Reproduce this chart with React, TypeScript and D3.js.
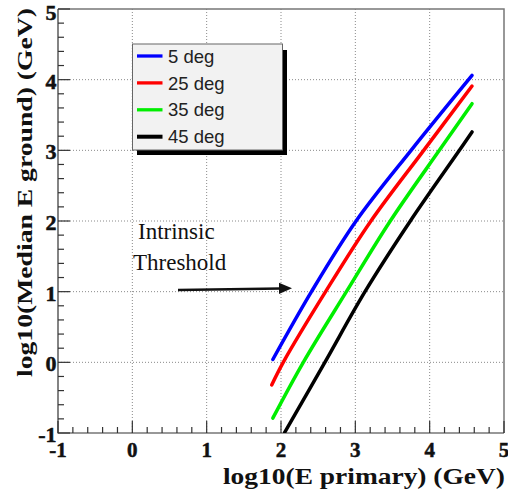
import * as d3 from "d3";

const W = 508;
const H = 493;
const PLOT = { left: 58, right: 504, top: 9, bottom: 433 };

// curve samples: log10(E primary) -> log10(median E ground)
const SERIES_NAMES = ["5 deg", "25 deg", "35 deg", "45 deg"];
const SERIES_COLORS = ["#0000ff", "#ff0000", "#00ee00", "#000000"];

const deg5X = [1.89, 2.41, 3.01, 3.75, 4.57];
const deg5Y = [0.04, 1.0, 2.0, 3.0, 4.06];

const deg25X = [1.875, 2.03, 2.6, 3.21, 3.92, 4.57];
const deg25Y = [-0.32, 0.0, 1.0, 2.0, 3.0, 3.91];

const deg35X = [1.89, 2.3, 2.88, 3.47, 4.13, 4.57];
const deg35Y = [-0.79, 0.0, 1.0, 2.0, 3.0, 3.66];

const deg45X = [2.05, 2.59, 3.13, 3.74, 4.4, 4.57];
const deg45Y = [-0.99, 0.0, 1.0, 2.0, 3.0, 3.26];

const X_TICKS = [-1, 0, 1, 2, 3, 4, 5];
const Y_TICKS = [-1, 0, 1, 2, 3, 4, 5];

const SERIF = "'Liberation Serif', 'Times New Roman', serif";
const SANS = "'Liberation Sans', Arial, sans-serif";

const App = () => {
  const x = d3.scaleLinear().domain([-1, 5]).range([PLOT.left, PLOT.right]);
  const y = d3.scaleLinear().domain([-1, 5]).range([PLOT.bottom, PLOT.top]);

  const series = [
    { xs: deg5X, ys: deg5Y },
    { xs: deg25X, ys: deg25Y },
    { xs: deg35X, ys: deg35Y },
    { xs: deg45X, ys: deg45Y },
  ];

  const line = d3
    .line<[number, number]>()
    .x((d) => x(d[0]))
    .y((d) => y(d[1]))
    .curve(d3.curveCatmullRom.alpha(0.5));

  const minorX = d3.range(-1, 5.001, 0.2);
  const minorY = d3.range(-1, 5.001, 0.2);

  return (
    <svg
      width={W}
      height={H}
      style={{ position: "absolute", left: 0, top: 0, background: "#fff" }}
    >
      <defs>
        <clipPath id="plot-clip">
          <rect
            x={PLOT.left}
            y={PLOT.top}
            width={PLOT.right - PLOT.left}
            height={PLOT.bottom - PLOT.top}
          />
        </clipPath>
      </defs>

      {/* grid */}
      <g stroke="#8a8a8a" strokeWidth={1} strokeDasharray="1,2">
        {X_TICKS.slice(1, -1).map((t) => (
          <line key={"gx" + t} x1={x(t)} x2={x(t)} y1={PLOT.top} y2={PLOT.bottom} />
        ))}
        {Y_TICKS.slice(1, -1).map((t) => (
          <line key={"gy" + t} x1={PLOT.left} x2={PLOT.right} y1={y(t)} y2={y(t)} />
        ))}
      </g>

      {/* frame */}
      <path
        d={`M${PLOT.left},${PLOT.top}H${PLOT.right}V${PLOT.bottom}`}
        fill="none"
        stroke="#777"
        strokeWidth={1.5}
      />
      <path
        d={`M${PLOT.left},${PLOT.top}V${PLOT.bottom}H${PLOT.right}`}
        fill="none"
        stroke="#333"
        strokeWidth={1.2}
      />

      {/* ticks, pointing inward */}
      <g stroke="#333" strokeWidth={1.2}>
        {minorX.map((t, i) => (
          <line
            key={"tx" + i}
            x1={x(t)}
            x2={x(t)}
            y1={PLOT.bottom}
            y2={PLOT.bottom - (i % 5 === 0 ? 12 : 6)}
          />
        ))}
        {minorY.map((t, i) => (
          <line
            key={"ty" + i}
            x1={PLOT.left}
            x2={PLOT.left + (i % 5 === 0 ? 12 : 6)}
            y1={y(t)}
            y2={y(t)}
          />
        ))}
      </g>

      {/* tick labels */}
      <g fontFamily={SERIF} fontWeight="bold" fill="#111" stroke="#111" strokeWidth={0.5}>
        {X_TICKS.map((t) => (
          <text key={"lx" + t} x={x(t)} y={PLOT.bottom + 24} fontSize={21} textAnchor="middle">
            {t}
          </text>
        ))}
        {Y_TICKS.map((t) => (
          <text
            key={"ly" + t}
            x={PLOT.left - 1.5}
            y={Math.max(y(t) + 9, 20)}
            fontSize={22}
            textAnchor="end"
          >
            {t}
          </text>
        ))}
      </g>

      {/* axis titles */}
      <text
        x={223}
        y={484}
        fontFamily={SERIF}
        fontWeight="bold"
        fontSize={23}
        textLength={282}
        lengthAdjust="spacingAndGlyphs"
        fill="#111"
      >
        log10(E primary) (GeV)
      </text>
      <text
        transform="translate(32,192.5) rotate(-90)"
        textAnchor="middle"
        fontFamily={SERIF}
        fontWeight="bold"
        fontSize={22}
        textLength={369}
        lengthAdjust="spacingAndGlyphs"
        fill="#111"
      >
        log10(Median E ground) (GeV)
      </text>

      {/* curves */}
      <g clipPath="url(#plot-clip)" fill="none" strokeWidth={3.5} strokeLinecap="round">
        {series.map((s, i) => (
          <path
            key={SERIES_NAMES[i]}
            d={line(s.xs.map((v, j) => [v, s.ys[j]] as [number, number])) || ""}
            stroke={SERIES_COLORS[i]}
          />
        ))}
      </g>

      {/* annotation */}
      <g fontFamily={SERIF} fontSize={23} fill="#111">
        <text x={138} y={239}>Intrinsic</text>
        <text x={133} y={270}>Threshold</text>
      </g>
      <line x1={178} y1={290} x2={281} y2={288.5} stroke="#111" strokeWidth={2.5} />
      <path d="M279,282.8 L292,288.3 L279,294 Z" fill="#111" />

      {/* legend */}
      <g>
        <rect x={137} y={50} width={150} height={105} fill="#000" />
        <rect x={132.5} y={44} width={150} height={106} fill="#f2f2f2" stroke="#666" strokeWidth={1} />
        {SERIES_NAMES.map((name, i) => {
          const ly = 56 + i * 26.9;
          return (
            <g key={"leg" + name}>
              <line
                x1={137}
                x2={162.5}
                y1={ly}
                y2={ly}
                stroke={SERIES_COLORS[i]}
                strokeWidth={i === 3 ? 4 : 3.3}
              />
              <text
                x={168}
                y={ly}
                dy="0.36em"
                fontFamily={SANS}
                fontSize={18.5}
                fill="#222"
              >
                {name}
              </text>
            </g>
          );
        })}
      </g>
    </svg>
  );
};

export default App;
